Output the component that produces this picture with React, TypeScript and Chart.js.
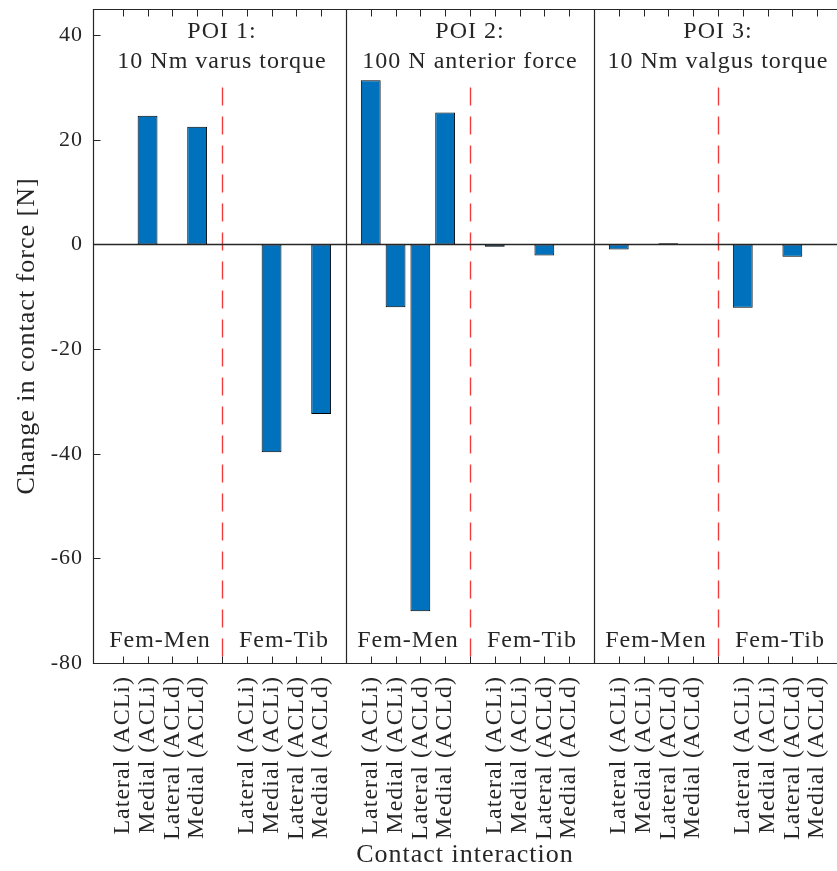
import React, { useEffect, useRef } from 'react';
import { Chart, registerables } from 'chart.js';

Chart.register(...registerables);

// ---- Data ----
const poiTitles: string[][] = [
  ['POI 1:', '10 Nm varus torque'],
  ['POI 2:', '100 N anterior force'],
  ['POI 3:', '10 Nm valgus torque'],
];
const groupNames = ['Fem-Men', 'Fem-Tib'];
const barLabels = ['Lateral (ACLi)', 'Medial (ACLi)', 'Lateral (ACLd)', 'Medial (ACLd)'];

// Change in contact force [N], per POI, per contact group (Lateral ACLi, Medial ACLi, Lateral ACLd, Medial ACLd)
const poi1FemMen = [0, 24.6, 0, 22.5];
const poi1FemTib = [0, -39.7, 0, -32.4];
const poi2FemMen = [31.4, -12.0, -70.1, 25.2];
const poi2FemTib = [-0.45, 0, -2.1, 0];
const poi3FemMen = [-0.95, 0, 0.25, 0];
const poi3FemTib = [-12.1, 0, -2.35, 0];

const femMenByPoi = [poi1FemMen, poi2FemMen, poi3FemMen];
const femTibByPoi = [poi1FemTib, poi2FemTib, poi3FemTib];

const yTicks = [-80, -60, -40, -20, 0, 20, 40];
const yMin = -80;
const yMax = 45;
const xMin = -0.2;
const xMax = 29.8;
const dashedTop = 30;

const TEXT = '#262626';
const FONT = '"Liberation Serif", "Times New Roman", serif';

// positions: POI k -> Fem-Men at 10k+1..10k+4, divider 10k+5, Fem-Tib at 10k+6..10k+9, separator 10k+10
const points: { x: number; y: number }[] = [];
femMenByPoi.forEach((arr, k) => arr.forEach((v, i) => points.push({ x: 10 * k + 1 + i, y: v })));
femTibByPoi.forEach((arr, k) => arr.forEach((v, i) => points.push({ x: 10 * k + 6 + i, y: v })));
points.sort((a, b) => a.x - b.x);

const xTickValues: number[] = [];
for (let p = 1; p <= 29; p++) xTickValues.push(p);
const xTickLabel = (p: number): string => {
  const m = p % 10;
  if (m >= 1 && m <= 4) return barLabels[m - 1];
  if (m >= 6 && m <= 9) return barLabels[m - 6];
  return '';
};

const decorPlugin = {
  id: 'decor',
  beforeDraw(chart: any) {
    const ctx = chart.ctx as any;
    ctx.letterSpacing = '1px';
  },
  beforeDatasetsDraw(chart: any) {
    const { ctx, chartArea } = chart;
    const xs = chart.scales.x;
    const ys = chart.scales.y;
    ctx.save();
    // solid POI separators
    ctx.strokeStyle = TEXT;
    ctx.lineWidth = 1.2;
    [10, 20].forEach((p) => {
      const x = Math.round(xs.getPixelForValue(p)) + 0.5;
      ctx.beginPath();
      ctx.moveTo(x, chartArea.top);
      ctx.lineTo(x, chartArea.bottom);
      ctx.stroke();
    });
    // red dashed group dividers
    ctx.strokeStyle = '#f03c3c';
    ctx.lineWidth = 1.4;
    ctx.setLineDash([18, 11]);
    [5, 15, 25].forEach((p) => {
      const x = Math.round(xs.getPixelForValue(p)) + 0.5;
      ctx.beginPath();
      ctx.moveTo(x, ys.getPixelForValue(dashedTop));
      ctx.lineTo(x, ys.getPixelForValue(yMin));
      ctx.stroke();
    });
    ctx.setLineDash([]);
    ctx.restore();
  },
  afterDatasetsDraw(chart: any) {
    const { ctx, chartArea } = chart;
    const xs = chart.scales.x;
    const ys = chart.scales.y;
    ctx.save();
    // zero baseline
    ctx.strokeStyle = TEXT;
    ctx.lineWidth = 1.3;
    const y0 = Math.round(ys.getPixelForValue(0)) + 0.5;
    ctx.beginPath();
    ctx.moveTo(chartArea.left, y0);
    ctx.lineTo(chartArea.right, y0);
    ctx.stroke();
    // axes box (left, top, bottom)
    ctx.lineWidth = 1.2;
    const L = Math.round(chartArea.left) + 0.5;
    const T = Math.round(chartArea.top) + 0.5;
    const B = Math.round(chartArea.bottom) + 0.5;
    ctx.beginPath();
    ctx.moveTo(chartArea.right + 2, T);
    ctx.lineTo(L, T);
    ctx.lineTo(L, B);
    ctx.lineTo(chartArea.right + 2, B);
    ctx.stroke();
    // tick marks
    ctx.lineWidth = 1;
    const tl = 7;
    xTickValues.forEach((p) => {
      const x = Math.round(xs.getPixelForValue(p)) + 0.5;
      ctx.beginPath();
      ctx.moveTo(x, B);
      ctx.lineTo(x, B - tl);
      ctx.moveTo(x, T);
      ctx.lineTo(x, T + tl);
      ctx.stroke();
    });
    yTicks.forEach((v) => {
      const y = Math.round(ys.getPixelForValue(v)) + 0.5;
      ctx.beginPath();
      ctx.moveTo(L, y);
      ctx.lineTo(L + tl, y);
      ctx.stroke();
    });
    // texts
    ctx.fillStyle = TEXT;
    ctx.font = `24px ${FONT}`;
    (ctx as any).letterSpacing = '1px';
    ctx.textAlign = 'center';
    ctx.textBaseline = 'alphabetic';
    poiTitles.forEach((lines, k) => {
      const x = xs.getPixelForValue(10 * k + 5);
      ctx.fillText(lines[0], x, chartArea.top + 29);
      ctx.fillText(lines[1], x, chartArea.top + 59);
    });
    for (let k = 0; k < 3; k++) {
      groupNames.forEach((g, j) => {
        const x = xs.getPixelForValue(10 * k + 2.5 + 5 * j);
        ctx.fillText(g, x, chartArea.bottom - 16);
      });
    }
    ctx.restore();
  },
};

export default function App() {
  const ref = useRef<HTMLCanvasElement | null>(null);
  useEffect(() => {
    if (!ref.current) return;
    const chart = new Chart(ref.current, {
      type: 'bar',
      data: {
        datasets: [
          {
            data: points as any,
            backgroundColor: '#0072BD',
            borderColor: '#000000',
            borderWidth: 1,
            borderSkipped: false,
            barPercentage: 0.8,
            categoryPercentage: 1,
          },
        ],
      },
      options: {
        responsive: false,
        animation: false,
        events: [],
        layout: { padding: { top: 9, right: 0, left: 0, bottom: 0 } },
        plugins: { legend: { display: false }, tooltip: { enabled: false } },
        scales: {
          x: {
            type: 'linear',
            min: xMin,
            max: xMax,
            offset: false,
            grid: { display: false, drawTicks: false },
            border: { display: false },
            afterBuildTicks: (scale: any) => {
              scale.ticks = xTickValues.map((v) => ({ value: v }));
            },
            afterFit: (scale: any) => {
              scale.height = 208;
              scale.paddingLeft = 0;
              scale.paddingRight = 0;
            },
            ticks: {
              autoSkip: false,
              maxRotation: 90,
              minRotation: 90,
              padding: 13,
              color: TEXT,
              font: { family: FONT, size: 24 },
              callback: (v: any) => xTickLabel(Number(v)),
            },
            title: {
              display: true,
              text: 'Contact interaction',
              color: TEXT,
              font: { family: FONT, size: 26 },
              padding: { top: 0, bottom: 0 },
            },
          },
          y: {
            type: 'linear',
            min: yMin,
            max: yMax,
            grid: { display: false, drawTicks: false },
            border: { display: false },
            afterBuildTicks: (scale: any) => {
              scale.ticks = yTicks.map((v) => ({ value: v }));
            },
            afterFit: (scale: any) => {
              scale.width = 93;
              scale.paddingTop = 0;
              scale.paddingBottom = 0;
            },
            ticks: {
              padding: 10,
              color: TEXT,
              font: { family: FONT, size: 22 },
              callback: (v: any) => String(v),
            },
            title: {
              display: true,
              text: 'Change in contact force [N]',
              color: TEXT,
              font: { family: FONT, size: 26 },
              padding: { top: 12, bottom: 0 },
            },
          },
        },
      },
      plugins: [decorPlugin],
    });
    return () => chart.destroy();
  }, []);
  return (
    <div style={{ position: 'absolute', left: 0, top: 0, width: 837, height: 871, background: '#fff' }}>
      <canvas ref={ref} width={837} height={871} />
    </div>
  );
}
